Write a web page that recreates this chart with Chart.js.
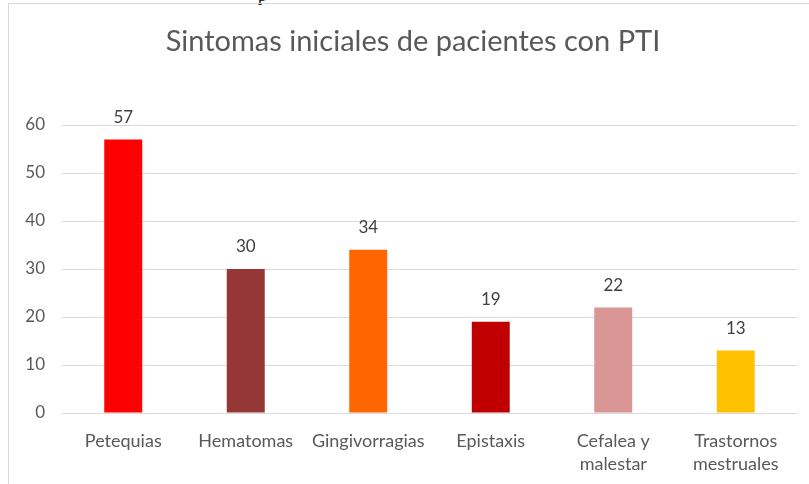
<!DOCTYPE html>
<html>
<head>
<meta charset="utf-8">
<script src="https://cdn.jsdelivr.net/npm/chart.js@4"></script>
<style>
  html, body { margin: 0; padding: 0; background: #fff; overflow: hidden; }
  body { width: 809px; height: 484px; position: relative; }
  #frame { position: absolute; left: 8px; top: 3px; width: 801px; height: 481px;
           border-left: 1px solid #d9d9d9; border-top: 1px solid #d9d9d9; box-sizing: border-box; }
  #wrap { position: absolute; left: 0; top: 0; width: 800px; height: 480px; }
  #frag { position: absolute; left: 258px; top: -14px; font: 17px "Liberation Serif", serif; color: #000; }
</style>
</head>
<body>
<div id="frag">p</div>
<div id="frame"><div id="wrap"><canvas id="c" width="800" height="480"></canvas></div></div>
<script>
const titleText = "Sintomas iniciales de pacientes con PTI";
const categories = ["Petequias", "Hematomas", "Gingivorragias", "Epistaxis", ["Cefalea y", "malestar"], ["Trastornos", "mestruales"]];
const values = [57, 30, 34, 19, 22, 13];
const barColors = ["#FF0000", "#953735", "#FF6600", "#C00000", "#DA9694", "#FFC000"];
const yTicks = [0, 10, 20, 30, 40, 50, 60];

const FONT = "Lato, 'Open Sans', sans-serif";

const valueLabels = {
  id: "valueLabels",
  afterDatasetsDraw(chart) {
    const ctx = chart.ctx;
    const meta = chart.getDatasetMeta(0);
    ctx.save();
    ctx.font = "17px " + FONT;
    ctx.fillStyle = "#404040";
    ctx.textAlign = "center";
    ctx.textBaseline = "middle";
    meta.data.forEach((bar, i) => {
      ctx.fillText(String(values[i]), bar.x, bar.y - 22);
    });
    ctx.restore();
  }
};

const chartTitle = {
  id: "chartTitle",
  afterDraw(chart) {
    const ctx = chart.ctx;
    ctx.save();
    ctx.font = "29px " + FONT;
    ctx.fillStyle = "#595959";
    ctx.textAlign = "center";
    ctx.textBaseline = "middle";
    ctx.fillText(titleText, chart.width / 2 + 4, 38);
    ctx.restore();
  }
};

new Chart(document.getElementById("c"), {
  type: "bar",
  data: {
    labels: categories,
    datasets: [{
      data: values,
      backgroundColor: barColors,
      borderWidth: 0,
      categoryPercentage: 1,
      barPercentage: 0.31
    }]
  },
  options: {
    responsive: false,
    animation: false,
    devicePixelRatio: 1,
    layout: { padding: { left: 0, right: 12, top: 121, bottom: 0 } },
    plugins: {
      legend: { display: false },
      tooltip: { enabled: false },
      title: { display: false }
    },
    scales: {
      x: {
        grid: { display: false, drawTicks: false },
        border: { display: false },
        ticks: {
          color: "#595959",
          font: { family: FONT, size: 18, lineHeight: 1.28 },
          padding: 17,
          maxRotation: 0,
          autoSkip: false
        },
        afterFit(scale) { scale.height = 71; }
      },
      y: {
        min: 0,
        max: 60,
        afterBuildTicks(scale) { scale.ticks = yTicks.map(v => ({ value: v })); },
        grid: { color: "#d9d9d9", drawTicks: false, lineWidth: 1 },
        border: { display: false },
        ticks: {
          color: "#595959",
          font: { family: FONT, size: 17 },
          padding: 17
        },
        afterFit(scale) { scale.width = 53; }
      }
    }
  },
  plugins: [valueLabels, chartTitle]
});
</script>
</body>
</html>
